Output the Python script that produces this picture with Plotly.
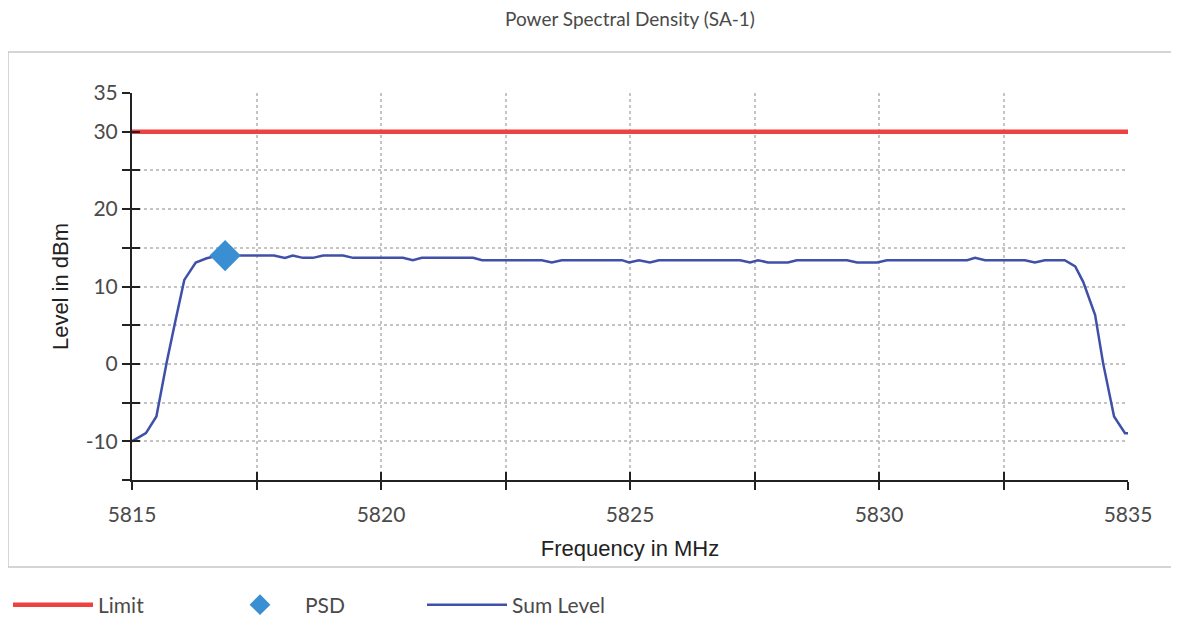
import plotly.graph_objects as go

# ---- data ----
freq_mhz = [5815.00, 5815.28, 5815.49, 5815.70, 5815.87, 5816.05, 5816.28, 5816.50, 5816.67, 5816.87,
            5817.07, 5817.27, 5817.47, 5817.67, 5817.85, 5818.07, 5818.23, 5818.43, 5818.63, 5818.84,
            5819.04, 5819.24, 5819.44, 5819.64, 5819.84, 5820.04, 5820.24, 5820.44, 5820.64, 5820.82,
            5821.02, 5821.22, 5821.42, 5821.62, 5821.85, 5822.03, 5822.23, 5822.43, 5822.63, 5822.83,
            5823.03, 5823.23, 5823.43, 5823.63, 5823.83, 5824.03, 5824.23, 5824.43, 5824.63, 5824.84,
            5824.98, 5825.18, 5825.40, 5825.58, 5825.78, 5825.98, 5826.18, 5826.38, 5826.58, 5826.78,
            5826.98, 5827.21, 5827.41, 5827.57, 5827.77, 5827.97, 5828.17, 5828.35, 5828.55, 5828.75,
            5828.95, 5829.16, 5829.36, 5829.56, 5829.76, 5829.96, 5830.16, 5830.36, 5830.56, 5830.76,
            5830.96, 5831.16, 5831.36, 5831.56, 5831.77, 5831.93, 5832.13, 5832.33, 5832.53, 5832.73,
            5832.93, 5833.13, 5833.33, 5833.53, 5833.73, 5833.94, 5834.10, 5834.34, 5834.50, 5834.72,
            5834.94, 5835.00]
sum_level_dbm = [-10.0, -8.95, -6.8, 0.3, 5.5, 10.85, 13.1, 13.65, 13.9, 14.0,
                 14.0, 14.0, 14.0, 14.0, 14.0, 13.7, 14.0, 13.7, 13.7, 14.0,
                 14.0, 14.0, 13.7, 13.7, 13.7, 13.7, 13.7, 13.7, 13.4, 13.7,
                 13.7, 13.7, 13.7, 13.7, 13.7, 13.4, 13.4, 13.4, 13.4, 13.4,
                 13.4, 13.4, 13.1, 13.4, 13.4, 13.4, 13.4, 13.4, 13.4, 13.4,
                 13.1, 13.4, 13.1, 13.4, 13.4, 13.4, 13.4, 13.4, 13.4, 13.4,
                 13.4, 13.4, 13.1, 13.4, 13.1, 13.1, 13.1, 13.4, 13.4, 13.4,
                 13.4, 13.4, 13.4, 13.1, 13.1, 13.1, 13.4, 13.4, 13.4, 13.4,
                 13.4, 13.4, 13.4, 13.4, 13.4, 13.7, 13.4, 13.4, 13.4, 13.4,
                 13.4, 13.1, 13.4, 13.4, 13.4, 12.6, 10.6, 6.3, 0.1, -6.8,
                 -8.95, -8.95]
limit_freq = [5815, 5835]
limit_dbm = [30, 30]
psd_freq = [5816.87]
psd_dbm = [14.0]

x_tickvals = [5815, 5817.5, 5820, 5822.5, 5825, 5827.5, 5830, 5832.5, 5835]
x_ticktext = ["5815", "", "5820", "", "5825", "", "5830", "", "5835"]
y_tickvals = [-15, -10, -5, 0, 5, 10, 15, 20, 25, 30, 35]
y_ticktext = ["", "-10", "", "0", "", "10", "", "20", "", "30", "35"]

TICK_FONT = dict(family="Lato, Open Sans, sans-serif", size=21, color="#4a4a4a")
TITLE_FONT = dict(family="Liberation Sans, Arial, sans-serif", size=22, color="#222222")

fig = go.Figure()
fig.add_trace(go.Scatter(x=limit_freq, y=limit_dbm, mode="lines", name="Limit", legendrank=1,
                         line=dict(color="#ee4242", width=4.5)))
fig.add_trace(go.Scatter(x=freq_mhz, y=sum_level_dbm, mode="lines", name="Sum Level", legendrank=3,
                         line=dict(color="#3f50a8", width=2.5)))
# PSD marker lives on the overlay axes (same ranges) which carry the inner half of the ticks
fig.add_trace(go.Scatter(x=psd_freq, y=psd_dbm, mode="markers", name="PSD", legendrank=2,
                         xaxis="x2", yaxis="y2",
                         marker=dict(symbol="diamond", size=24, color="#3a8fd2")))

grid = dict(showgrid=True, gridcolor="#c4c4c4", gridwidth=1.5, griddash="dot")

W, H = 1171, 614  # page body adds an 8px offset
fig.update_layout(
    width=W, height=H,
    paper_bgcolor="white", plot_bgcolor="white",
    margin=dict(l=124, r=51, t=85, b=142),
    title=dict(text="Power Spectral Density (SA-1)", x=0.5, xref="paper", y=1 - 11 / H, yanchor="middle",
               font=dict(family="Lato, Open Sans, sans-serif", size=19, color="#4a4a4a")),
    xaxis=dict(range=[5815, 5835], tickvals=x_tickvals, ticktext=x_ticktext,
               ticks="outside", ticklen=8, tickwidth=2, tickcolor="#222",
               showline=True, linecolor="#222", linewidth=2, zeroline=False,
               tickfont=TICK_FONT, ticklabelstandoff=7,
               title=dict(text="Frequency in MHz", font=TITLE_FONT, standoff=15), **grid),
    yaxis=dict(range=[-15, 35], tickvals=y_tickvals, ticktext=y_ticktext,
               ticks="outside", ticklen=8, tickwidth=2, tickcolor="#222",
               showline=True, linecolor="#222", linewidth=2, zeroline=False,
               tickfont=TICK_FONT, ticklabelstandoff=0,
               title=dict(text="Level in dBm", font=TITLE_FONT, standoff=11), **grid),
    xaxis2=dict(range=[5815, 5835], overlaying="x", anchor="y2", tickvals=x_tickvals,
                showticklabels=False, ticks="inside", ticklen=8, tickwidth=2, tickcolor="#222",
                showgrid=False, zeroline=False, showline=False),
    yaxis2=dict(range=[-15, 35], overlaying="y", anchor="x2", tickvals=y_tickvals,
                showticklabels=False, ticks="inside", ticklen=8, tickwidth=2, tickcolor="#222",
                showgrid=False, zeroline=False, showline=False),
    legend=dict(orientation="h", x=0.0, xref="container", xanchor="left",
                y=(H - 597) / H, yref="container", yanchor="middle",
                entrywidth=112, entrywidthmode="pixels",
                font=dict(family="Lato, Open Sans, sans-serif", size=21, color="#4a4a4a"),
                itemwidth=80),
    shapes=[dict(type="rect", xref="paper", yref="paper",
                 x0=(8 - 132) / 996, x1=(1177 - 132) / 996,
                 y0=(480 - 567) / 387, y1=(480 - 52) / 387,
                 line=dict(color="#c8c8c8", width=1.5), fillcolor="rgba(0,0,0,0)", layer="below")],
    showlegend=True,
)

fig.write_html("out.html")
